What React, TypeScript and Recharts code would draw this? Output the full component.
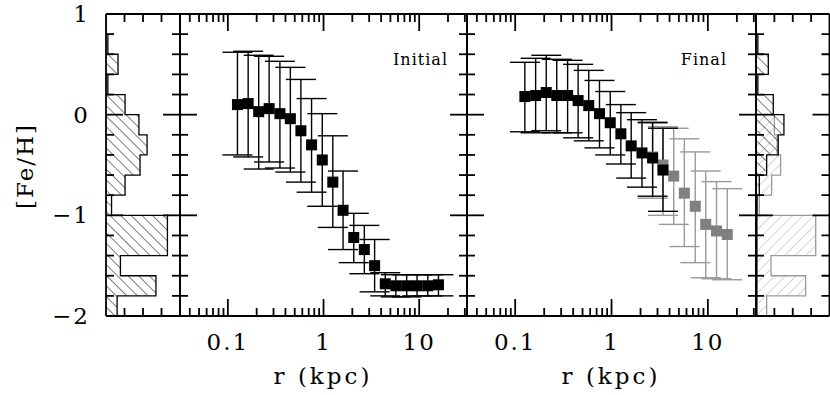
import { ComposedChart, Scatter, ErrorBar, Area, XAxis, YAxis } from 'recharts'

const W = 830
const H = 395
const TOP = 14
const BOTTOM = 316
const FONT = '"DejaVu Serif", serif'

// radial bins in kpc, same for both profiles
const radii = [0.126, 0.163, 0.21, 0.27, 0.35, 0.45, 0.58, 0.75, 0.97, 1.25, 1.6, 2.07, 2.67, 3.42, 4.42, 5.7, 7.4, 9.5, 12.3, 15.9]

// initial profile: mean [Fe/H] and the ends of the spread bars
const initialFeH = [0.1, 0.11, 0.03, 0.06, 0.01, -0.04, -0.16, -0.3, -0.45, -0.67, -0.95, -1.22, -1.34, -1.5, -1.68, -1.7, -1.7, -1.7, -1.7, -1.69]
const initialHigh = [0.62, 0.63, 0.59, 0.58, 0.53, 0.47, 0.35, 0.16, 0.01, -0.21, -0.56, -0.98, -1.1, -1.24, -1.57, -1.59, -1.59, -1.59, -1.59, -1.59]
const initialLow = [-0.4, -0.42, -0.54, -0.47, -0.53, -0.57, -0.67, -0.77, -0.91, -1.12, -1.34, -1.47, -1.58, -1.76, -1.8, -1.81, -1.81, -1.8, -1.8, -1.8]

// final profile, inner part (black)
const finalFeH = [0.18, 0.19, 0.22, 0.19, 0.19, 0.14, 0.09, 0.01, -0.08, -0.19, -0.31, -0.38, -0.43, -0.55]
const finalHigh = [0.52, 0.56, 0.59, 0.55, 0.54, 0.5, 0.44, 0.34, 0.23, 0.1, 0.02, -0.05, -0.08, -0.135]
const finalLow = [-0.17, -0.18, -0.16, -0.18, -0.18, -0.23, -0.26, -0.33, -0.4, -0.49, -0.63, -0.72, -0.81, -0.96]

// final profile, outer part (grey), starts at radii[12]
const outerStart = 12
const outerFeH = [-0.42, -0.5, -0.61, -0.78, -0.91, -1.09, -1.155, -1.19]
const outerHigh = [-0.07, -0.12, -0.135, -0.24, -0.37, -0.56, -0.665, -0.735]
const outerLow = [-0.83, -1.0, -1.09, -1.31, -1.47, -1.62, -1.63, -1.64]

// metallicity histograms, bins of 0.2 dex from +1 down to -2
const binEdges = [1, 0.8, 0.6, 0.4, 0.2, 0, -0.2, -0.4, -0.6, -0.8, -1, -1.2, -1.4, -1.6, -1.8, -2]
const histInitial = [0, 0.1, 0.65, 0.1, 1.03, 1.78, 2.22, 1.84, 1.03, 0.3, 3.32, 3.32, 0.78, 2.7, 0.6]
const histFinal = [0, 0.1, 0.67, 0.1, 0.94, 1.52, 1.21, 0.58, 0.18, 0.06, 0.05, 0.05, 0.05, 0.05, 0.05]
const histOuter = [0, 0, 0, 0, 0, 1.0, 1.15, 1.34, 0.85, 0.18, 3.25, 3.25, 0.82, 2.7, 0.58]

const fehDomain = [-2, 1]
const fehTicks = [-2, -1.8, -1.6, -1.4, -1.2, -1, -0.8, -0.6, -0.4, -0.2, 0, 0.2, 0.4, 0.6, 0.8, 1]
const fehMajor = [-2, -1, 0, 1]
const rDomain = [0.0316, 31.6]
const rTicks = [0.04, 0.05, 0.06, 0.07, 0.08, 0.09, 0.1, 0.2, 0.3, 0.4, 0.5, 0.6, 0.7, 0.8, 0.9, 1, 2, 3, 4, 5, 6, 7, 8, 9, 10, 20, 30]
const rMajor = [0.1, 1, 10]
const countDomain = [0, 4]
const countTicks = [1, 2, 3]

const toPoints = (v: number[], hi: number[], lo: number[], start = 0) =>
  v.map((y, i) => ({ r: radii[start + i], v: y, err: [y - lo[i], hi[i] - y] }))

const toSteps = (h: number[]) => binEdges.map((e, i) => ({ feh: e, n: i < h.length ? h[i] : 0 }))

// tick positions along the four edges of a box, as points the axes can place
const edgeMarks = (xKey: string, yKey: string, xDom: number[], yDom: number[], xTicks: number[]) => ({
  left: fehTicks.map((t) => ({ [xKey]: xDom[0], [yKey]: t })),
  right: fehTicks.map((t) => ({ [xKey]: xDom[1], [yKey]: t })),
  bottom: xTicks.map((t) => ({ [xKey]: t, [yKey]: yDom[0] })),
  top: xTicks.map((t) => ({ [xKey]: t, [yKey]: yDom[1] })),
})

const isInt = (v: number) => Math.abs(v - Math.round(v)) < 1e-6
const fmt = (v: number) => (v < 0 ? '\u2212' + Math.abs(v) : String(v))

const MINOR = 8
const MAJOR = 17
const PEN = 1.8

// inward tick drawn at a mark point
const tickMark = (side: 'left' | 'right' | 'top' | 'bottom', isMajor: (d: any) => boolean) => (p: any) => {
  const len = isMajor(p.payload) ? MAJOR : MINOR
  const dx = side === 'left' ? len : side === 'right' ? -len : 0
  const dy = side === 'top' ? len : side === 'bottom' ? -len : 0
  return <line x1={p.cx} y1={p.cy} x2={p.cx + dx} y2={p.cy + dy} stroke="#000" strokeWidth={PEN} />
}

const labelStyle = { fontFamily: FONT, fontSize: 23, letterSpacing: 2, fill: '#000' }
const blank = () => <g />
const yLabel = (p: any) => (
  <text x={p.x - 16} y={p.y + 8} textAnchor="end" {...labelStyle}>{fmt(p.payload.value)}</text>
)
const xLabel = (p: any) => (
  <text x={p.x} y={p.y + 34} textAnchor="middle" {...labelStyle}>{String(p.payload.value)}</text>
)

const border = { stroke: '#000', strokeWidth: PEN }
const axisBits = { tickSize: 0, tickMargin: 0, tickLine: false, axisLine: border, interval: 0 as const, allowDataOverflow: true }

const frameY = (labelled: boolean, dataKey: string, flip: boolean) => [
  <YAxis key="yl" yAxisId="l" orientation="left" type="number" dataKey={dataKey} domain={fehDomain} reversed={flip} ticks={fehMajor} width={1} tick={labelled ? yLabel : blank} {...axisBits} />,
  <YAxis key="yr" yAxisId="r" orientation="right" type="number" dataKey={dataKey} domain={fehDomain} reversed={flip} ticks={fehMajor} width={1} tick={blank} {...axisBits} />,
]

const frameLogX = () => [
  <XAxis key="xb" xAxisId="b" orientation="bottom" type="number" scale="log" dataKey="r" domain={rDomain} ticks={rMajor} height={1} tick={xLabel} {...axisBits} />,
  <XAxis key="xt" xAxisId="t" orientation="top" type="number" scale="log" dataKey="r" domain={rDomain} ticks={rMajor} height={1} tick={blank} {...axisBits} />,
]

const frameCountX = () => [
  <XAxis key="xb" xAxisId="b" orientation="bottom" type="number" dataKey="n" domain={countDomain} ticks={countTicks} height={1} tick={blank} {...axisBits} />,
  <XAxis key="xt" xAxisId="t" orientation="top" type="number" dataKey="n" domain={countDomain} ticks={countTicks} height={1} tick={blank} {...axisBits} />,
]

const tickSeries = (marks: ReturnType<typeof edgeMarks>, xMajor: (d: any) => boolean, yMajor: (d: any) => boolean) =>
  (['left', 'right', 'bottom', 'top'] as const).map((side) => (
    <Scatter
      key={'ticks-' + side}
      xAxisId="b"
      yAxisId="l"
      data={marks[side]}
      shape={tickMark(side, side === 'left' || side === 'right' ? yMajor : xMajor)}
      isAnimationActive={false}
      legendType="none"
    />
  ))

// axes take 1px each outside the plot box
const margin = (x0: number, x1: number) => ({ top: TOP - 1, bottom: H - BOTTOM - 1, left: x0 - 1, right: W - x1 - 1 })

const square = (fill: string) => (p: any) => <rect x={p.cx - 5.5} y={p.cy - 5.5} width={11} height={11} fill={fill} />

const hatch = (id: string, angle: number, color: string) => (
  <pattern id={id} patternUnits="userSpaceOnUse" width={7.5} height={7.5} patternTransform={`rotate(${angle})`}>
    <line x1={0} y1={0} x2={0} y2={7.5} stroke={color} strokeWidth={1} />
  </pattern>
)

const layer: React.CSSProperties = { position: 'absolute', left: 0, top: 0 }

export default function App() {
  const initialPts = toPoints(initialFeH, initialHigh, initialLow)
  const finalPts = toPoints(finalFeH, finalHigh, finalLow)
  const outerPts = toPoints(outerFeH, outerHigh, outerLow, outerStart)

  const logMarks = edgeMarks('r', 'v', rDomain, fehDomain, rTicks)
  const histMarksL = edgeMarks('n', 'feh', countDomain, fehDomain, countTicks)
  const rIsMajor = (d: any) => rMajor.includes(d.r)
  const vIsMajor = (d: any) => isInt(d.v)
  const fehIsMajor = (d: any) => isInt(d.feh)
  const never = () => false

  return (
    <div style={{ position: 'absolute', left: 0, top: 0, width: W, height: H, background: '#fff' }}>
      {/* left histogram: initial distribution */}
      <div style={layer}>
        <ComposedChart width={W} height={H} layout="vertical" data={toSteps(histInitial)} margin={margin(106, 180)}>
          <defs>{hatch('hatchInit', -45, '#000')}</defs>
          {frameCountX()}
          {frameY(true, 'feh', true)}
          <Area xAxisId="b" yAxisId="l" dataKey="n" type="stepBefore" stroke="#000" strokeWidth={1.3} fill="url(#hatchInit)" fillOpacity={1} isAnimationActive={false} dot={false} activeDot={false} />
          {tickSeries(histMarksL, never, fehIsMajor)}
          <text transform="rotate(-90)" x={-166} y={33} textAnchor="middle" {...labelStyle}>[Fe/H]</text>
        </ComposedChart>
      </div>

      {/* initial radial profile */}
      <div style={layer}>
        <ComposedChart width={W} height={H} data={initialPts} margin={margin(180, 467)}>
          {frameLogX()}
          {frameY(false, 'v', false)}
          {tickSeries(logMarks, rIsMajor, vIsMajor)}
          <Scatter xAxisId="b" yAxisId="l" data={initialPts} shape={square('#000')} isAnimationActive={false}>
            <ErrorBar dataKey="err" direction="y" width={15} stroke="#000" strokeWidth={1.4} />
          </Scatter>
          <text x={448} y={65} textAnchor="end" fontFamily={FONT} fontSize={16} letterSpacing={1} fill="#000">Initial</text>
          <text x={323} y={384} textAnchor="middle" {...labelStyle} letterSpacing={3}>r (kpc)</text>
        </ComposedChart>
      </div>

      {/* final radial profile */}
      <div style={layer}>
        <ComposedChart width={W} height={H} data={finalPts} margin={margin(467, 756)}>
          {frameLogX()}
          {frameY(false, 'v', false)}
          {tickSeries(logMarks, rIsMajor, vIsMajor)}
          <Scatter xAxisId="b" yAxisId="l" data={outerPts} shape={square('#808080')} isAnimationActive={false}>
            <ErrorBar dataKey="err" direction="y" width={15} stroke="#9a9a9a" strokeWidth={1.4} />
          </Scatter>
          <Scatter xAxisId="b" yAxisId="l" data={finalPts} shape={square('#000')} isAnimationActive={false}>
            <ErrorBar dataKey="err" direction="y" width={15} stroke="#000" strokeWidth={1.4} />
          </Scatter>
          <text x={727} y={65} textAnchor="end" fontFamily={FONT} fontSize={16} letterSpacing={1} fill="#000">Final</text>
          <text x={611} y={384} textAnchor="middle" {...labelStyle} letterSpacing={3}>r (kpc)</text>
        </ComposedChart>
      </div>

      {/* right histogram: final distribution, inner (black) and outer (grey) */}
      <div style={layer}>
        <ComposedChart width={W} height={H} layout="vertical" data={toSteps(histFinal)} margin={margin(756, 829.5)}>
          <defs>
            {hatch('hatchFinal', -45, '#000')}
            {hatch('hatchOuter', 45, '#aaa')}
          </defs>
          {frameCountX()}
          {frameY(false, 'feh', true)}
          <Area xAxisId="b" yAxisId="l" data={toSteps(histOuter)} dataKey="n" type="stepBefore" stroke="#999" strokeWidth={1.3} fill="url(#hatchOuter)" fillOpacity={1} isAnimationActive={false} dot={false} activeDot={false} />
          <Area xAxisId="b" yAxisId="l" data={toSteps(histFinal)} dataKey="n" type="stepBefore" stroke="#000" strokeWidth={1.3} fill="url(#hatchFinal)" fillOpacity={1} isAnimationActive={false} dot={false} activeDot={false} />
          {tickSeries(histMarksL, never, fehIsMajor)}
        </ComposedChart>
      </div>
    </div>
  )
}
